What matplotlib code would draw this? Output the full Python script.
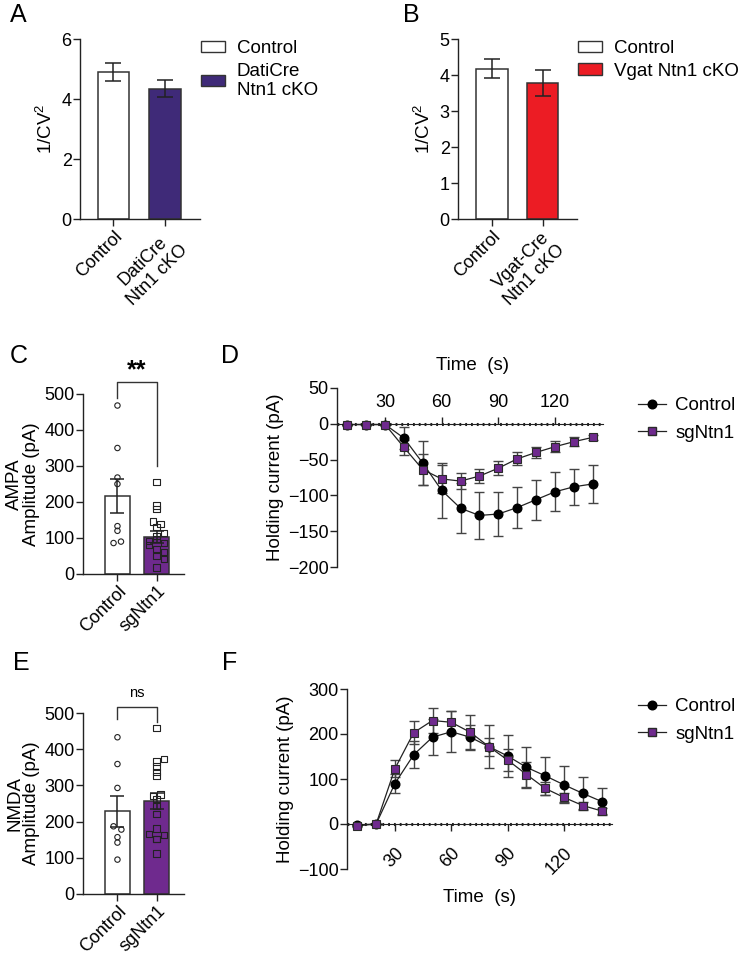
import matplotlib
matplotlib.use("Agg")
import matplotlib.pyplot as plt
from matplotlib.lines import Line2D
from matplotlib.patches import Patch
import numpy as np

plt.rcParams['font.family'] = ['Liberation Sans', 'DejaVu Sans']
plt.rcParams['mathtext.fontset'] = 'custom'
plt.rcParams['mathtext.rm'] = 'Liberation Sans'
plt.rcParams['mathtext.it'] = 'Liberation Sans'

# ---------------- data ----------------
a_labels = ["Control", "DatiCre\nNtn1 cKO"]
a_legend = ["Control", "DatiCre\nNtn1 cKO"]
a_means = [4.9, 4.35]
a_sem = [0.31, 0.29]

b_labels = ["Control", "Vgat-Cre\nNtn1 cKO"]
b_legend = ["Control", "Vgat Ntn1 cKO"]
b_means = [4.18, 3.78]
b_sem = [0.26, 0.36]

ce_labels = ["Control", "sgNtn1"]
c_means = [217, 103]
c_sem = [48, 16]
c_ctrl_pts = [468, 350, 268, 250, 133, 120, 86, 90]
c_ctrl_jit = [0, 0, 0, 0, 0, 0, -0.1, 0.09]
c_sg_pts = [255, 190, 180, 146, 139, 131, 113, 105, 97, 92, 86, 80, 69, 61, 51, 42, 18]
c_sg_jit = [0, 0, 0, -0.1, 0.1, 0, 0.19, 0, 0, -0.19, 0.19, -0.19, 0, 0.19, 0, 0.19, 0]

e_means = [228, 257]
e_sem = [43, 23]
e_ctrl_pts = [433, 359, 293, 187, 178, 157, 142, 95]
e_ctrl_jit = [0, 0, 0, -0.1, 0.1, 0, 0, 0]
e_sg_pts = [459, 372, 366, 352, 338, 326, 275, 270, 262, 243, 222, 181, 165, 162, 152, 151, 112]
e_sg_jit = [0, 0.19, 0, 0, 0, 0, 0.1, -0.1, 0, 0, 0, 0, -0.19, 0.19, 0, 0, 0]

time_s = [10, 20, 30, 40, 50, 60, 70, 80, 90, 100, 110, 120, 130, 140]
time_ticks = [30, 60, 90, 120]
d_ctrl = [-1, -1, -1, -20, -55, -93, -118, -128, -126, -117, -106, -95, -88, -84]
d_ctrl_sem = [1, 1, 1, 15, 31, 38, 35, 33, 31, 29, 28, 27, 25, 26]
d_sg = [-1, -1, -1, -33, -64, -77, -80, -73, -62, -49, -40, -32, -25, -19]
d_sg_sem = [1, 1, 1, 11, 22, 20, 11, 10, 10, 9, 8, 7.5, 6, 3]

f_ctrl = [-2, 0, 90, 154, 193, 205, 193, 172, 151, 126, 107, 87, 68, 50]
f_ctrl_sem = [2, 1, 22, 30, 40, 46, 28, 47, 46, 46, 43, 41, 36, 29]
f_sg = [-4, 0, 123, 203, 230, 226, 204, 172, 142, 110, 79, 59, 41, 29]
f_sg_sem = [2, 1, 19, 26, 28, 25, 38, 20, 25, 28, 15, 10, 8, 6]

series_labels = ["Control", "sgNtn1"]

# ---------------- style ----------------
W, H = 752, 961
FS = 13
AX = '#222222'
WHITE = '#ffffff'
INDIGO = '#3f2a78'
RED = '#ec1c24'
PURPLE = '#6f2a8e'

fig = plt.figure(figsize=(W / 100, H / 100), dpi=100)


def px_axes(l, t, r, b):
    return fig.add_axes([l / W, 1 - b / H, (r - l) / W, (b - t) / H])


def style_axes(ax):
    for s in ['top', 'right']:
        ax.spines[s].set_visible(False)
    for s in ['left', 'bottom']:
        ax.spines[s].set_color(AX)
        ax.spines[s].set_linewidth(1.0)
    ax.tick_params(colors=AX, labelcolor='black', labelsize=FS, width=1.0, length=5, pad=1)
    ax.patch.set_alpha(0)


def bar_panel(ax, means, sem, colors, labels, xlim, ylim, yticks, ylabel):
    x = np.arange(len(means))
    ax.bar(x, means, width=0.62, color=colors, edgecolor='#333333', linewidth=1.1, zorder=2)
    ax.errorbar(x, means, yerr=sem, fmt='none', ecolor='#222222', elinewidth=1.1,
                capsize=6, capthick=1.1, zorder=3)
    ax.set_xlim(*xlim)
    ax.set_ylim(*ylim)
    ax.set_yticks(yticks)
    ax.set_xticks(x)
    ax.set_xticklabels(labels, rotation=45, ha='right', rotation_mode='anchor',
                       multialignment='center', fontsize=FS)
    ax.set_ylabel(ylabel, fontsize=FS + 0.5, labelpad=4)
    style_axes(ax)


# ---------------- Panel A ----------------
axA = px_axes(80, 39, 200, 219)
bar_panel(axA, a_means, a_sem, [WHITE, INDIGO], a_labels, (-0.65, 1.68), (0, 6),
          [0, 2, 4, 6], '1/CV$^2$')
axA.legend([Patch(facecolor=WHITE, edgecolor='#333333'), Patch(facecolor=INDIGO, edgecolor='#333333')],
           a_legend, loc='upper left', bbox_to_anchor=(201 / W, 1 - 40 / H),
           bbox_transform=fig.transFigure, frameon=False, fontsize=FS + 0.5,
           handlelength=1.3, handleheight=0.55, handletextpad=0.6, labelspacing=0.3,
           borderaxespad=0, borderpad=0)

# ---------------- Panel B ----------------
axB = px_axes(458, 39, 577, 219)
bar_panel(axB, b_means, b_sem, [WHITE, RED], b_labels, (-0.67, 1.68), (0, 5),
          [0, 1, 2, 3, 4, 5], '1/CV$^2$')
axB.legend([Patch(facecolor=WHITE, edgecolor='#333333'), Patch(facecolor=RED, edgecolor='#333333')],
           b_legend, loc='upper left', bbox_to_anchor=(578 / W, 1 - 40 / H),
           bbox_transform=fig.transFigure, frameon=False, fontsize=FS + 0.5,
           handlelength=1.3, handleheight=0.55, handletextpad=0.6, labelspacing=0.3,
           borderaxespad=0, borderpad=0)


# ---------------- Panels C, E ----------------
def dot_panel(ax, means, sem, ctrl_pts, ctrl_jit, sg_pts, sg_jit, ylabel):
    x = np.arange(2)
    ax.bar(x, means, width=0.64, color=[WHITE, PURPLE], edgecolor='#333333', linewidth=1.1, zorder=1)
    ax.scatter(np.array(ctrl_jit) + x[0], ctrl_pts, s=15, marker='o', facecolor='none',
               edgecolor='#222222', linewidth=0.8, zorder=3)
    ax.scatter(np.array(sg_jit) + x[1], sg_pts, s=20, marker='s', facecolor='none',
               edgecolor='#222222', linewidth=0.8, zorder=4)
    ax.errorbar(x, means, yerr=sem, fmt='none', ecolor='#222222', elinewidth=1.1,
                capsize=5, capthick=1.1, zorder=5)
    ax.set_xlim(-0.88, 1.7)
    ax.set_ylim(0, 500)
    ax.set_yticks([0, 100, 200, 300, 400, 500])
    ax.set_xticks(x)
    ax.set_xticklabels(ce_labels, rotation=45, ha='right', rotation_mode='anchor', fontsize=FS)
    ax.set_ylabel(ylabel, fontsize=FS + 0.5, labelpad=3, linespacing=1.0)
    style_axes(ax)


axC = px_axes(83, 394, 184, 574)
dot_panel(axC, c_means, c_sem, c_ctrl_pts, c_ctrl_jit, c_sg_pts, c_sg_jit, 'AMPA\nAmplitude (pA)')
axC.plot([0, 0, 1, 1], [490, 532, 532, 300], color='#333333', lw=1.0, clip_on=False)
axC.text(0.5, 565, '**', ha='center', va='center', fontsize=18, fontweight='bold', clip_on=False)

axE = px_axes(83, 713, 184, 894)
dot_panel(axE, e_means, e_sem, e_ctrl_pts, e_ctrl_jit, e_sg_pts, e_sg_jit, 'NMDA\nAmplitude (pA)')
axE.plot([0, 0, 1, 1], [484, 516, 516, 476], color='#333333', lw=1.0, clip_on=False)
axE.text(0.5, 555, 'ns', ha='center', va='center', fontsize=10.5, clip_on=False)


# ---------------- Panels D, F ----------------
def time_panel(ax, ctrl, ctrl_sem, sg, sg_sem, ylim, yticks, top, leg_y):
    ax.errorbar(time_s, ctrl, yerr=ctrl_sem, fmt='none', ecolor='#444444', elinewidth=1.0,
                capsize=3.5, capthick=1.0, zorder=2)
    ax.errorbar(time_s, sg, yerr=sg_sem, fmt='none', ecolor='#444444', elinewidth=1.0,
                capsize=3.5, capthick=1.0, zorder=2)
    ax.plot(time_s, ctrl, '-', color='#222222', lw=0.9, zorder=3)
    ax.plot(time_s, sg, '-', color='#222222', lw=0.9, zorder=3)
    ax.plot(time_s, ctrl, 'o', color='black', ms=6.2, zorder=4)
    ax.plot(time_s, sg, 's', mfc=PURPLE, mec='#2a2a2a', mew=0.8, ms=6.2, zorder=5)
    ax.set_xlim(4.5, 145.5)
    ax.set_ylim(*ylim)
    ax.set_yticks(yticks)
    ax.set_xticks(time_ticks)
    style_axes(ax)
    ax.spines['bottom'].set_position(('data', 0))
    ax.spines['bottom'].set_linewidth(0.8)
    ax.plot([4.5, 145.5], [0, 0], color='#222222', lw=2.2, ls=(0, (0.6, 1.3)), zorder=1,
            clip_on=False)
    ax.set_ylabel('Holding current (pA)', fontsize=FS + 0.5, labelpad=3)
    if top:
        ax.tick_params(axis='x', direction='in', length=5, labelbottom=False)
        for t in time_ticks:
            ax.annotate(str(t), (t, 0), xytext=(0, 15), textcoords='offset points',
                        ha='center', va='center', fontsize=FS)
    ax.legend([Line2D([0], [0], color='#222222', lw=0.9, marker='o', mfc='black', mec='black', ms=6.2),
               Line2D([0], [0], color='#222222', lw=0.9, marker='s', mfc=PURPLE, mec='#2a2a2a', ms=6.2)],
              series_labels, loc='upper left', bbox_transform=fig.transFigure,
              frameon=False, fontsize=FS + 0.5, handlelength=1.5, handletextpad=0.5,
              labelspacing=0.55, borderaxespad=0, borderpad=0,
              bbox_to_anchor=(638 / W, 1 - leg_y / H))


axD = px_axes(337, 388, 603, 567)
time_panel(axD, d_ctrl, d_ctrl_sem, d_sg, d_sg_sem, (-200, 50), [-200, -150, -100, -50, 0, 50],
           True, 397)
axD.text(0.51, 1 + (388 - 366) / 179, 'Time  (s)', transform=axD.transAxes, ha='center',
         va='center', fontsize=FS + 0.5)

axF = px_axes(347, 689, 612, 869)
time_panel(axF, f_ctrl, f_ctrl_sem, f_sg, f_sg_sem, (-100, 300), [-100, 0, 100, 200, 300],
           False, 698)
axF.tick_params(axis='x', direction='out', length=5, pad=10)
for lbl in axF.get_xticklabels():
    lbl.set_rotation(45)
    lbl.set_ha('right')
    lbl.set_rotation_mode('anchor')
axF.set_xlabel('Time  (s)', fontsize=FS + 0.5, labelpad=8)

# ---------------- panel letters ----------------
for letter, (x, y) in {'A': (10, 3), 'B': (403, 3), 'C': (10, 344), 'D': (221, 344),
                       'E': (13, 651), 'F': (222, 651)}.items():
    fig.text(x / W, 1 - y / H, letter, fontsize=18, ha='left', va='top')

fig.savefig('out.png', dpi=100)
